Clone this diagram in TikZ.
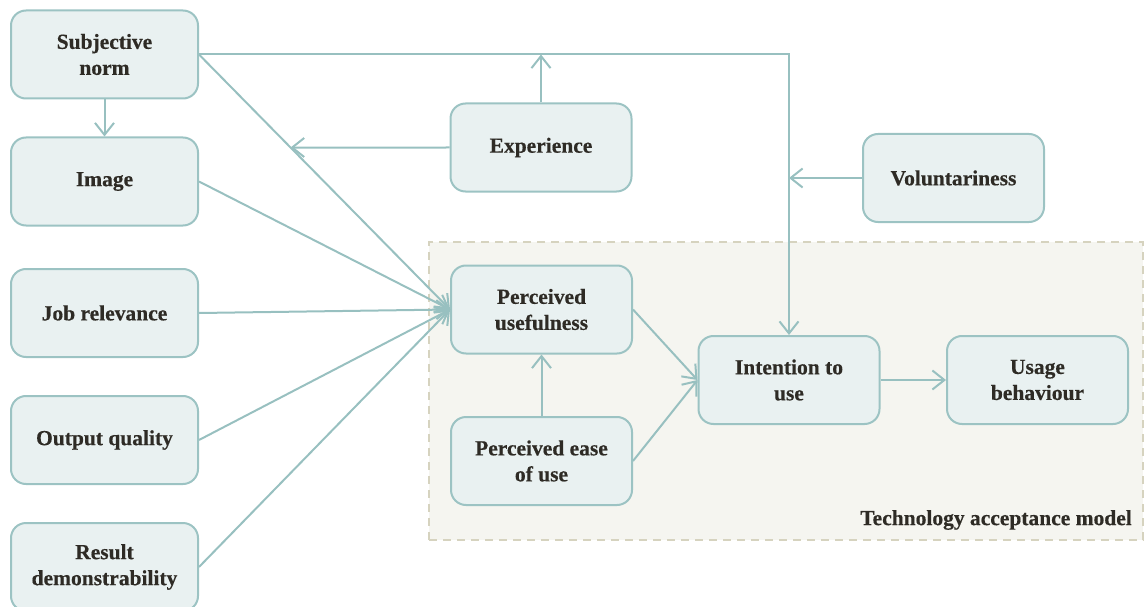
\documentclass[tikz,border=0pt]{standalone}
\usepackage{fontspec}
\setmainfont{Liberation Serif}[BoldFeatures={FakeBold=0.4}]
\usetikzlibrary{arrows.meta,calc}
\definecolor{boxfill}{HTML}{E9F1F1}
\definecolor{boxline}{HTML}{9CC3C3}
\definecolor{conn}{HTML}{98C0C0}
\definecolor{txt}{HTML}{2E2B25}
\definecolor{tamfill}{HTML}{F5F5F0}
\definecolor{tamline}{HTML}{D6D3BF}
\tikzset{
  box/.style={draw=boxline, fill=boxfill, line width=2pt, rounded corners=15pt,
    align=center, text=txt, inner sep=0pt,
    font=\fontsize{21.5}{26}\selectfont\bfseries},
  leftbox/.style={box, minimum width=187pt, minimum height=88pt},
  midbox/.style={box, minimum width=181pt, minimum height=88pt},
  conn/.style={draw=conn, line width=2pt},
  arr/.style={conn, -{Straight Barb[length=12pt,width=19pt,line width=2pt]}},
  tam/.style={draw=tamline, fill=tamfill, line width=2pt, dash pattern=on 8pt off 6pt, inner sep=0pt},
}
\begin{document}
\begin{tikzpicture}[x=1pt,y=-1pt]
\useasboundingbox (0,0) rectangle (1146,607);
\node[tam, minimum width=714pt, minimum height=298pt] (tam) at (786,391) {};
\node[anchor=east, text=txt, font=\fontsize{21.5}{26}\selectfont\bfseries, inner sep=0pt] (tamlabel) at (1132,520) {Technology acceptance model};

\node[leftbox] (sn) at (104.5,54.5) {Subjective\\norm};
\node[leftbox] (im) at (104.5,181.5) {Image};
\node[leftbox] (jr) at (104.5,313) {Job relevance};
\node[leftbox] (oq) at (104.5,440) {Output quality};
\node[leftbox] (rd) at (104.5,567) {Result\\demonstrability};

\node[midbox] (ex) at (541,147.5) {Experience};
\node[midbox] (vo) at (953.5,178) {Voluntariness};
\node[midbox] (pu) at (541.5,309.5) {Perceived\\usefulness};
\node[midbox] (pe) at (541.5,461) {Perceived ease\\of use};
\node[midbox] (iu) at (789,380) {Intention to\\use};
\node[midbox] (ub) at (1037.5,380) {Usage\\behaviour};

\coordinate (corner) at (iu.north |- sn.east);
\coordinate (d1) at (intersection of sn.east--pu.west and ex.west--ex.east);
\coordinate (exup) at (ex.north |- sn.east);
\coordinate (voin) at (vo.west -| iu.north);

\draw[arr] (sn.east) -- (corner) -- (iu.north);
\draw[arr] (ex.north) -- (exup);
\draw[arr] (ex.west) -- (d1);
\draw[arr] (vo.west) -- (voin);
\draw[arr] (sn.south) -- (im.north);
\draw[arr] (sn.east) -- (pu.west);
\draw[arr] (im.east) -- (pu.west);
\draw[arr] (jr.east) -- (pu.west);
\draw[arr] (oq.east) -- (pu.west);
\draw[arr] (rd.east) -- (pu.west);
\draw[arr] (pe.north) -- (pu.south);
\draw[arr] (pu.east) -- (iu.west);
\draw[arr] (pe.east) -- (iu.west);
\draw[arr] (iu.east) -- (ub.west);
\end{tikzpicture}
\end{document}
